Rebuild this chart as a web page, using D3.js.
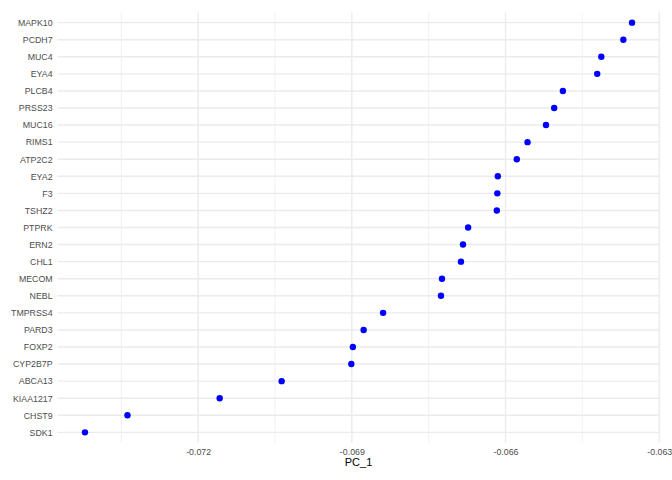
<!DOCTYPE html>
<html>
<head>
<meta charset="utf-8">
<script src="https://cdn.jsdelivr.net/npm/d3@7"></script>
<style>
  body { margin: 0; background: #fff; }
  svg text { font-family: "Liberation Sans", Arial, Helvetica, sans-serif; }
</style>
</head>
<body>
<svg id="chart" width="672" height="480"></svg>
<script>
// genes, top to bottom
var genes = ['MAPK10', 'PCDH7', 'MUC4', 'EYA4', 'PLCB4', 'PRSS23', 'MUC16', 'RIMS1',
  'ATP2C2', 'EYA2', 'F3', 'TSHZ2', 'PTPRK', 'ERN2', 'CHL1', 'MECOM', 'NEBL',
  'TMPRSS4', 'PARD3', 'FOXP2', 'CYP2B7P', 'ABCA13', 'KIAA1217', 'CHST9', 'SDK1'];
var pc1 = [-0.06353, -0.06370, -0.06413, -0.06421, -0.06488, -0.06505, -0.06521, -0.06557,
  -0.06578, -0.06615, -0.06616, -0.06617, -0.06673, -0.06683, -0.06687, -0.06724, -0.06726,
  -0.06839, -0.06877, -0.06898, -0.06901, -0.07037, -0.07158, -0.07338, -0.07421];
var xTicks = [-0.072, -0.069, -0.066, -0.063];
var xLabel = 'PC_1';

var svg = d3.select('#chart');
var width = 672, height = 480;
var margin = {top: 12.4, right: 12.6, bottom: 37.4, left: 57.6};

var ext = d3.extent(pc1);
var pad = (ext[1] - ext[0]) * 0.05;
var x = d3.scaleLinear()
  .domain([ext[0] - pad, ext[1] + pad])
  .range([margin.left, width - margin.right]);

var y = d3.scalePoint()
  .domain(genes)
  .range([margin.top, height - margin.bottom])
  .padding(0.6);

var grid = svg.append('g');

// minor verticals between the major ticks
var step = xTicks[1] - xTicks[0];
var minor = [xTicks[0] - step / 2].concat(xTicks.slice(0, -1).map(function(t) { return t + step / 2; }));
minor.forEach(function(t) {
  grid.append('line')
    .attr('x1', x(t)).attr('x2', x(t))
    .attr('y1', margin.top).attr('y2', height - margin.bottom)
    .attr('stroke', '#ebebeb').attr('stroke-width', 0.7);
});
xTicks.forEach(function(t) {
  grid.append('line')
    .attr('x1', x(t)).attr('x2', x(t))
    .attr('y1', margin.top).attr('y2', height - margin.bottom)
    .attr('stroke', '#ebebeb').attr('stroke-width', 1.4);
});
genes.forEach(function(g) {
  grid.append('line')
    .attr('x1', margin.left).attr('x2', width - margin.right)
    .attr('y1', y(g)).attr('y2', y(g))
    .attr('stroke', '#ebebeb').attr('stroke-width', 1.4);
});

// axes, ggplot minimal style: no lines, just labels
var xAxis = svg.append('g')
  .attr('transform', 'translate(0,' + (height - margin.bottom) + ')')
  .call(d3.axisBottom(x).tickValues(xTicks).tickSize(0).tickPadding(6)
    .tickFormat(function(d) { return d.toFixed(3); }));
xAxis.select('.domain').remove();
xAxis.selectAll('text').attr('fill', '#4d4d4d').attr('font-size', '8.8px');

var yAxis = svg.append('g')
  .attr('transform', 'translate(' + margin.left + ',0)')
  .call(d3.axisLeft(y).tickSize(0).tickPadding(5));
yAxis.select('.domain').remove();
yAxis.selectAll('text').attr('fill', '#4d4d4d').attr('font-size', '8.8px');

svg.append('text')
  .attr('x', (margin.left + width - margin.right) / 2)
  .attr('y', 466)
  .attr('text-anchor', 'middle')
  .attr('font-size', '11px')
  .attr('fill', '#000')
  .text(xLabel);

svg.append('g').selectAll('circle')
  .data(genes)
  .enter().append('circle')
  .attr('cx', function(d, i) { return x(pc1[i]); })
  .attr('cy', function(d) { return y(d); })
  .attr('r', 3.2)
  .attr('fill', '#0000ff');
</script>
</body>
</html>
